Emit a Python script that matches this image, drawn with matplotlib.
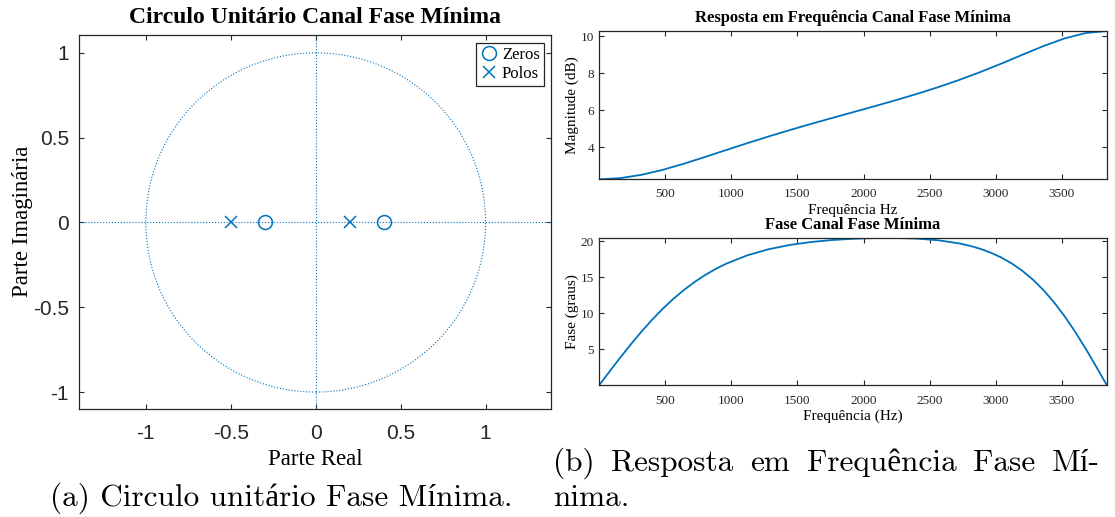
import numpy as np
import matplotlib
matplotlib.use("Agg")
import matplotlib.pyplot as plt
from matplotlib.patches import Circle

# Zeros e polos do canal de fase mínima
zeros_re = [-0.3, 0.4]
zeros_im = [0.0, 0.0]
polos_re = [-0.5, 0.2]
polos_im = [0.0, 0.0]

# Magnitude da resposta em frequência (dB)
freq_mag = [0, 160, 320, 480, 640, 800, 960, 1120, 1280, 1440, 1600, 1760, 1920,
            2080, 2240, 2400, 2560, 2720, 2880, 3040, 3200, 3360, 3520, 3680, 3840]
mag_db = [2.279, 2.341, 2.518, 2.786, 3.116, 3.480, 3.855, 4.226, 4.586, 4.931,
          5.263, 5.584, 5.900, 6.217, 6.541, 6.881, 7.243, 7.635, 8.061, 8.519,
          8.999, 9.470, 9.885, 10.176, 10.282]

# Fase (graus), mais pontos onde a curva dobra mais
freq_fase = [0, 80, 160, 240, 320, 400, 480, 560, 640, 720, 800, 880, 960,
             1120, 1280, 1440, 1600, 1760, 1920, 2080, 2240, 2400, 2560, 2720,
             2800, 2880, 2960, 3040, 3120, 3200, 3280, 3360, 3440, 3520, 3600,
             3680, 3760, 3840]
fase_graus = [0.0, 1.942, 3.850, 5.694, 7.448, 9.089, 10.604, 11.983, 13.224,
              14.328, 15.300, 16.148, 16.883,
              18.053, 18.896, 19.491, 19.902, 20.180, 20.357, 20.453, 20.467,
              20.382, 20.158, 19.724,
              19.398, 18.977, 18.440, 17.768, 16.934, 15.915, 14.688, 13.233,
              11.537, 9.599, 7.435, 5.077, 2.576, 0.0]

pz_ticks = [-1, -0.5, 0, 0.5, 1]
pz_ticklabels = ['-1', '-0.5', '0', '0.5', '1']
freq_ticks = [500, 1000, 1500, 2000, 2500, 3000, 3500]

azul = '#0072BD'
cinza = '#262626'
serif = 'Liberation Serif'
cm = ['cmr10', 'Liberation Serif']

plt.rcParams['font.family'] = serif
plt.rcParams['axes.unicode_minus'] = False

W, H = 1115, 517
fig = plt.figure(figsize=(W / 100, H / 100), dpi=100)

ax_pz = fig.add_axes([0.0706, 0.2095, 0.4236, 0.7234])
ax_mag = fig.add_axes([0.5372, 0.6532, 0.4556, 0.2868])
ax_fase = fig.add_axes([0.5372, 0.2544, 0.4556, 0.2853])

for ax in (ax_pz, ax_mag, ax_fase):
    ax.tick_params(direction='in', top=True, right=True, length=3.8,
                   width=0.8, colors=cinza)
    for s in ax.spines.values():
        s.set_linewidth(0.9)
        s.set_color(cinza)

# ---- diagrama de polos e zeros ----
ax_pz.add_patch(Circle((0, 0), 1, fill=False, ls=':', lw=0.8, color=azul))
ax_pz.axhline(0, ls=':', lw=0.8, color=azul)
ax_pz.axvline(0, ls=':', lw=0.8, color=azul)
ax_pz.plot(zeros_re, zeros_im, 'o', ls='none', mfc='none', mec=azul, ms=10,
           mew=1.1, label='Zeros')
ax_pz.plot(polos_re, polos_im, 'x', ls='none', color=azul, ms=8, mew=1.1,
           label='Polos')
ax_pz.set_xlim(-1.395, 1.385)
ax_pz.set_ylim(-1.098, 1.107)
ax_pz.set_xticks(pz_ticks)
ax_pz.set_yticks(pz_ticks)
ax_pz.set_xticklabels(pz_ticklabels, family='Liberation Sans', fontsize=15)
ax_pz.set_yticklabels(pz_ticklabels, family='Liberation Sans', fontsize=15)
ax_pz.tick_params(axis='x', pad=11)
ax_pz.tick_params(axis='y', pad=7)
ax_pz.set_xlabel('Parte Real', fontsize=16.5)
ax_pz.set_ylabel('Parte Imaginária', fontsize=16.5)
ax_pz.xaxis.label.set_va('center')
ax_pz.yaxis.label.set_va('center')
ax_pz.xaxis.set_label_coords(0.5, -0.135)
ax_pz.yaxis.set_label_coords(-0.118, 0.5)
ax_pz.text(0.5, 1.045, 'Circulo Unitário Canal Fase Mínima', transform=ax_pz.transAxes,
           ha='center', va='center', fontsize=17, fontweight='bold')
leg = ax_pz.legend(loc='upper right', bbox_to_anchor=(0.985, 0.978), borderaxespad=0,
                   fontsize=12, fancybox=False, edgecolor=cinza, framealpha=1,
                   handlelength=1.0, handletextpad=0.3, borderpad=0.25,
                   labelspacing=0.15)
leg.get_frame().set_linewidth(0.9)

# ---- magnitude ----
ax_mag.plot(freq_mag, mag_db, color=azul, lw=1.3)
ax_mag.set_xlim(freq_mag[0], freq_mag[-1])
ax_mag.set_ylim(min(mag_db), max(mag_db))
ax_mag.set_xticks(freq_ticks)
ax_mag.set_yticks([4, 6, 8, 10])
ax_mag.set_xlabel('Frequência Hz', fontsize=11)
ax_mag.set_ylabel('Magnitude (dB)', fontsize=11)
ax_mag.text(0.5, 1.088, 'Resposta em Frequência Canal Fase Mínima',
            transform=ax_mag.transAxes, ha='center', va='center',
            fontsize=12, fontweight='bold')

# ---- fase ----
ax_fase.plot(freq_fase, fase_graus, color=azul, lw=1.3)
ax_fase.set_xlim(freq_fase[0], freq_fase[-1])
ax_fase.set_ylim(min(fase_graus), max(fase_graus))
ax_fase.set_xticks(freq_ticks)
ax_fase.set_yticks([5, 10, 15, 20])
ax_fase.set_xlabel('Frequência (Hz)', fontsize=11)
ax_fase.set_ylabel('Fase (graus)', fontsize=11)
ax_fase.text(0.5, 1.088, 'Fase Canal Fase Mínima', transform=ax_fase.transAxes,
             ha='center', va='center', fontsize=12, fontweight='bold')

for ax in (ax_mag, ax_fase):
    ax.tick_params(labelsize=9.5)
    ax.tick_params(axis='x', pad=6.5)
    ax.tick_params(axis='y', pad=3.6)
    ax.xaxis.label.set_va('center')
    ax.yaxis.label.set_va('center')
    ax.xaxis.set_label_coords(0.5, -0.21)
    ax.yaxis.set_label_coords(-0.052, 0.5)

# ---- legendas das subfiguras ----
fs_cap = 22.5
fig.text(281 / W, (H - 506) / H, '(a) Circulo unitário Fase Mínima.',
         ha='center', va='baseline', fontsize=fs_cap, family=cm)

# primeira linha da legenda (b) justificada entre x0 e x1
renderer = fig.canvas.get_renderer()
palavras = ['(b)', 'Resposta', 'em', 'Frequência', 'Fase', 'Mí-']
textos = [fig.text(0, (H - 471) / H, p, va='baseline', fontsize=fs_cap, family=cm)
          for p in palavras]
larguras = [t.get_window_extent(renderer).width for t in textos]
x0, x1 = 553, 1100
gap = (x1 - x0 - sum(larguras)) / (len(palavras) - 1)
x = x0
for t, w in zip(textos, larguras):
    t.set_x(x / W)
    x += w + gap
fig.text(x0 / W, (H - 506) / H, 'nima.', va='baseline', fontsize=fs_cap, family=cm)

fig.savefig('out.png', dpi=100)
